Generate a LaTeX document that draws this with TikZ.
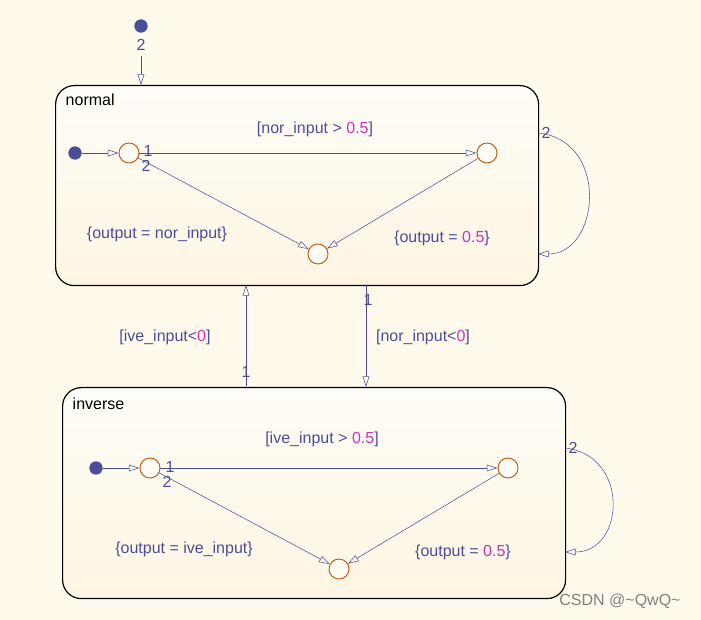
\documentclass[tikz,border=0pt]{standalone}
\usepackage{fontspec}
\setmainfont{Liberation Sans}
\usetikzlibrary{arrows.meta}
\definecolor{bg}{HTML}{FFFAEC}
\definecolor{ink}{HTML}{4A4E98}
\definecolor{num}{HTML}{CC33BB}
\definecolor{junc}{HTML}{C05A10}
\tikzset{
  st/.style={draw=black,line width=0.9pt,rounded corners=14pt,top color=white!60!bg,bottom color=bg!80!orange!20!bg},
  jn/.style={draw=junc,fill=white!50!bg,circle,minimum size=15pt,inner sep=0pt,line width=0.7pt},
  dflt/.style={fill=ink,circle,minimum size=10pt,inner sep=0pt},
  tr/.style={draw=ink,-{Triangle[open,length=8pt,width=5pt]},line width=0.4pt},
  lb/.style={text=ink,font=\fontsize{12}{14}\selectfont,inner sep=1pt},
}
\begin{document}
\begin{tikzpicture}[x=0.75pt,y=-0.75pt]
\fill[bg] (0,0) rectangle (701,620);
\useasboundingbox (0,0) rectangle (701,620);
% normal state
\node[st,minimum width=483*0.75pt,minimum height=200*0.75pt,anchor=north west] (nor) at (55,85) {};
\node[anchor=west,font=\fontsize{12}{14}\selectfont] at (61,100) {normal};
\node[dflt] (d0) at (141,26) {};
\node[lb] at (141,45) {2};
\coordinate (e0) at (141,56);
\draw[tr] (e0) -- (141,85);
\node[dflt] (d1) at (75,153) {};
\node[jn] (a1) at (129,153) {};
\node[jn] (b1) at (487,153) {};
\node[jn] (c1) at (318,254) {};
\draw[tr] (d1) -- (a1);
\draw[tr] (a1) -- (b1);
\draw[tr] (a1) -- (c1);
\draw[tr] (b1) -- (c1);
\node[lb] at (148,151) {1};
\node[lb] at (146,166) {2};
\node[lb] at (315,129) {[nor\_input > \textcolor{num}{0.5}]};
\node[lb] at (157,234) {\{output = nor\_input\}};
\node[lb] at (442,238) {\{output = \textcolor{num}{0.5}\}};
\coordinate (n2a) at (538,133);
\coordinate (n2b) at (538,254);
\draw[tr] (n2a) .. controls (610,140) and (600,254) .. (n2b);
\node[lb] at (546,133) {2};
% transitions between states
\coordinate (up0) at (246,386);
\coordinate (up1) at (246,285);
\draw[tr] (up0) -- (up1);
\node[lb] at (246,372) {1};
\node[lb] at (165,337) {[ive\_input<\textcolor{num}{0}]};
\coordinate (dn0) at (366,285);
\coordinate (dn1) at (366,387);
\draw[tr] (dn0) -- (dn1);
\node[lb] at (368,300) {1};
\node[lb] at (423,337) {[nor\_input<\textcolor{num}{0}]};
% inverse state
\node[st,minimum width=503*0.75pt,minimum height=211*0.75pt,anchor=north west] (inv) at (62,387) {};
\node[anchor=west,font=\fontsize{12}{14}\selectfont] at (68,404) {inverse};
\node[dflt] (d2) at (96,468) {};
\node[jn] (a2) at (150,468) {};
\node[jn] (b2) at (508,468) {};
\node[jn] (c2) at (339,569) {};
\draw[tr] (d2) -- (a2);
\draw[tr] (a2) -- (b2);
\draw[tr] (a2) -- (c2);
\draw[tr] (b2) -- (c2);
\node[lb] at (170,467) {1};
\node[lb] at (167,482) {2};
\node[lb] at (322,439) {[ive\_input > \textcolor{num}{0.5}]};
\node[lb] at (184,549) {\{output = ive\_input\}};
\node[lb] at (463,552) {\{output = \textcolor{num}{0.5}\}};
\coordinate (i2a) at (565,448);
\coordinate (i2b) at (565,552);
\draw[tr] (i2a) .. controls (630,455) and (625,552) .. (i2b);
\node[lb] at (573,448) {2};
\node[text=gray,font=\fontsize{12}{14}\selectfont] at (620,601) {CSDN @\textasciitilde QwQ\textasciitilde};
\end{tikzpicture}
\end{document}
